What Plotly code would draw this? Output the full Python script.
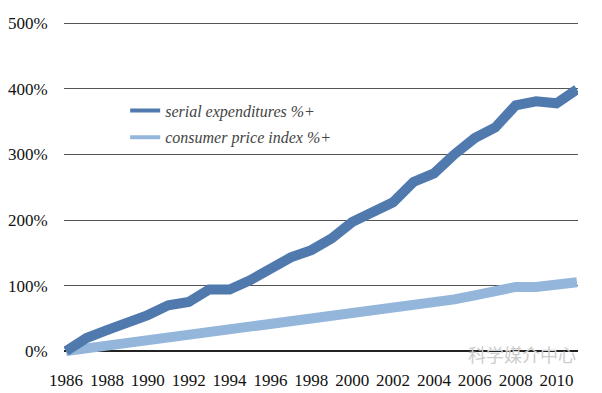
import plotly.graph_objects as go

years = list(range(1986, 2012))
serial = [0, 20, 32, 42, 55, 70, 75, 94, 94, 108, 126, 143, 154, 172, 197, 210, 227,
          258, 271, 300, 325, 341, 375, 381, 378, 399]
cpi = [0, 4, 8, 13, 18, 22, 26, 30, 33, 37, 41, 45, 49, 53, 57, 61, 64, 68, 73, 79,
       85, 91, 98, 98, 100, 105]
y_ticks = [0, 100, 200, 300, 400, 500]
y_labels = [f"{v}%" for v in y_ticks]
x_ticks = list(range(1986, 2011, 2))

c_serial = "#5079ae"
c_cpi = "#93b6da"

fig = go.Figure()
fig.add_trace(go.Scatter(x=years, y=cpi, mode="lines", line=dict(color=c_cpi, width=10),
                         showlegend=False, hoverinfo="skip"))
fig.add_trace(go.Scatter(x=years, y=serial, mode="lines", line=dict(color=c_serial, width=10),
                         showlegend=False, hoverinfo="skip"))
# legend entries
fig.add_trace(go.Scatter(x=[None], y=[None], mode="lines", line=dict(color=c_serial, width=4),
                         name="serial expenditures %+", legendgroup="a"))
fig.add_trace(go.Scatter(x=[None], y=[None], mode="lines", line=dict(color=c_cpi, width=4),
                         name="consumer price index %+", legendgroup="b"))

serif = "Liberation Serif"
fig.update_layout(
    width=594, height=385,
    margin=dict(l=56, r=24, t=12, b=32, autoexpand=False),
    paper_bgcolor="white", plot_bgcolor="white",
    font=dict(family=serif, size=16, color="#111"),
    legend=dict(x=0.119, y=0.695, xanchor="left", yanchor="middle",
                font=dict(family=serif, size=16, color="#444", style="italic"),
                bgcolor="rgba(0,0,0,0)", itemwidth=30, traceorder="grouped",
                tracegroupgap=3),
    xaxis=dict(range=[1985.9, 2011.05], tickvals=x_ticks, showgrid=False, zeroline=False,
               showline=False, ticks="outside", ticklen=4, tickcolor="rgba(0,0,0,0)",
               automargin=False,
               tickfont=dict(family=serif, size=17, color="#111")),
    yaxis=dict(range=[-15, 505], tickvals=y_ticks, ticktext=y_labels, showgrid=True,
               gridcolor="#555", gridwidth=1.3, zeroline=True, zerolinecolor="#222",
               zerolinewidth=1.5, showline=False, ticks="outside", ticklen=12,
               tickcolor="rgba(0,0,0,0)", automargin=False,
               tickfont=dict(family=serif, size=17, color="#111")),
    annotations=[dict(text="科学媒介中心", xref="paper", yref="paper", x=1.0, y=0.02,
                      xanchor="right", yanchor="middle", showarrow=False,
                      font=dict(family="Noto Sans CJK SC", size=18, color="#cccccc"))],
)
fig.write_html("out.html")
